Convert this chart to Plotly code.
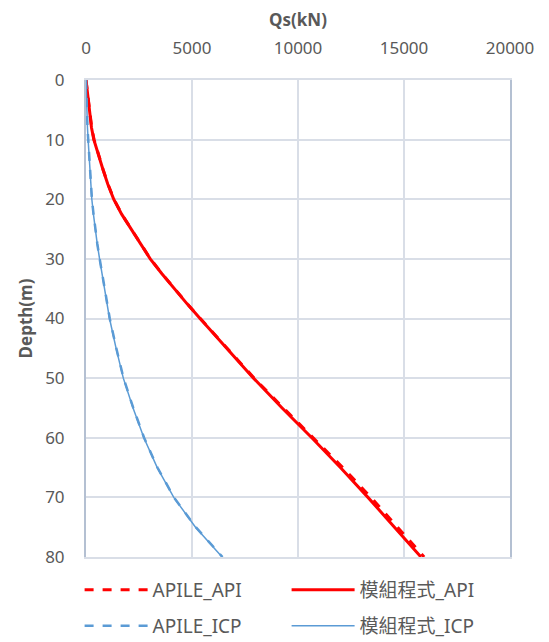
import plotly.graph_objects as go

depth = [0, 2, 4, 6, 8, 10, 12.5, 15, 17.5, 20, 22.5, 25, 27.5, 30, 32.5, 35, 37.5, 40, 45, 50, 55, 60, 65, 70, 75, 80]

# 模組程式_API
qs_mod_api = [0, 60, 110, 170, 260, 370, 570, 800, 1030, 1310, 1680, 2130, 2570, 3030, 3580, 4150, 4760, 5380, 6650, 7900, 9250, 10650, 12000, 13300, 14550, 15800]
# APILE_API
qs_apile_api = [0, 65, 115, 180, 270, 380, 575, 805, 1040, 1320, 1685, 2135, 2575, 3040, 3590, 4160, 4770, 5390, 6670, 7930, 9310, 10730, 12110, 13440, 14700, 15950]
# 模組程式_ICP
qs_mod_icp = [0, 10, 25, 45, 70, 100, 140, 180, 225, 275, 350, 430, 530, 640, 750, 870, 990, 1110, 1420, 1760, 2220, 2730, 3360, 4140, 5165, 6420]
# APILE_ICP
qs_apile_icp = [0, 10, 25, 45, 70, 105, 145, 185, 230, 280, 355, 435, 535, 645, 755, 875, 995, 1120, 1430, 1770, 2230, 2740, 3370, 4150, 5180, 6440]

RED = "#FF0000"
BLUE = "#5B9BD5"
GRAY = "#595959"
GRID = "#D9DEE7"
FONT = "Noto Sans, Noto Sans CJK TC, sans-serif"

fig = go.Figure()
fig.add_trace(go.Scatter(x=qs_apile_api, y=depth, mode="lines", name="APILE_API",
                         line=dict(color=RED, width=3, dash="dash"), legend="legend"))
fig.add_trace(go.Scatter(x=qs_mod_api, y=depth, mode="lines", name="模組程式_API",
                         line=dict(color=RED, width=3), legend="legend2"))
fig.add_trace(go.Scatter(x=qs_apile_icp, y=depth, mode="lines", name="APILE_ICP",
                         line=dict(color=BLUE, width=2.5, dash="dash"), legend="legend3"))
fig.add_trace(go.Scatter(x=qs_mod_icp, y=depth, mode="lines", name="模組程式_ICP",
                         line=dict(color=BLUE, width=1.5), legend="legend4"))


def leg(xc, yc, size):
    return dict(orientation="h", xref="container", yref="container",
                x=xc, y=yc, xanchor="left", yanchor="middle",
                font=dict(family=FONT, size=size, color=GRAY), itemwidth=63,
                bgcolor="rgba(0,0,0,0)")


col1 = 79.6 / 549
col2 = 286.6 / 549
row1 = 1 - 590 / 642
row2 = 1 - 626 / 642

fig.update_layout(
    width=549, height=642,
    margin=dict(l=86, r=39, t=80, b=85, autoexpand=False),
    paper_bgcolor="white", plot_bgcolor="white",
    font=dict(family=FONT, color=GRAY, size=17),
    showlegend=True,
    legend=leg(col1, row1, 19),
    legend2=leg(col2, row1, 19),
    legend3=leg(col1, row2, 19),
    legend4=leg(col2, row2, 19),
    xaxis=dict(side="top", range=[0, 20000], dtick=5000, tickformat="d",
               showgrid=True, gridcolor=GRID, gridwidth=1.5, zeroline=False,
               showline=True, linecolor=GRID, linewidth=1.5, mirror=True,
               ticks="", ticklabelstandoff=17, tickfont=dict(size=17, color=GRAY),
               title=dict(text="<b>Qs(kN)</b>", font=dict(size=17, color=GRAY), standoff=6)),
    yaxis=dict(range=[80, 0], dtick=10, showgrid=True, gridcolor=GRID, gridwidth=1.5,
               zeroline=False, showline=True, linecolor="#B4C0D2", linewidth=2, mirror=True,
               ticks="", ticklabelstandoff=16, tickfont=dict(size=17, color=GRAY),
               title=dict(text="<b>Depth(m)</b>", font=dict(size=17, color=GRAY), standoff=8)),
)

fig.write_html("out.html")
